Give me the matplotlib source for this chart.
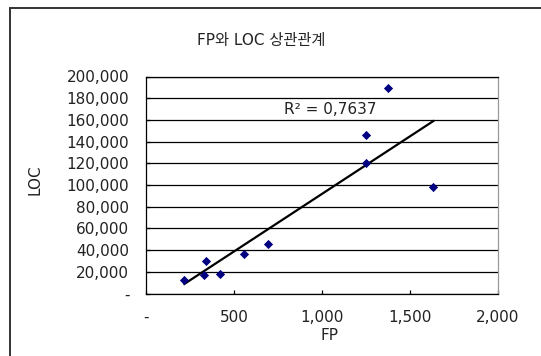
import numpy as np
import matplotlib
matplotlib.use("Agg")
import matplotlib.pyplot as plt
from matplotlib.patches import Rectangle

plt.rcParams['font.family'] = ['DejaVu Sans', 'Noto Sans CJK KR']

# data
fp = [218, 331, 339, 420, 558, 695, 1248, 1248, 1373, 1632]
loc = [12500, 17000, 30000, 17700, 36400, 45300, 120500, 146000, 189000, 98000]

x_ticks = [0, 500, 1000, 1500, 2000]
x_labels = ['-', '500', '1,000', '1,500', '2,000']
y_ticks = [0, 20000, 40000, 60000, 80000, 100000, 120000, 140000, 160000, 180000, 200000]
y_labels = ['-', '20,000', '40,000', '60,000', '80,000', '100,000',
            '120,000', '140,000', '160,000', '180,000', '200,000']

title = 'FP와 LOC 상관관계'
r2_text = 'R² = 0,7637'

W, H = 541, 356
fs = 11
fig = plt.figure(figsize=(W / 100, H / 100), dpi=100)
fig.patch.set_facecolor('white')

# plot area (pixels): left 146, right 498, top 76.5, bottom 293.5
ax = fig.add_axes([146 / W, 1 - 293.5 / H, (498 - 146) / W, (293.5 - 76.5) / H])

# linear trend line
slope, intercept = np.polyfit(fp, loc, 1)
xs = np.array([min(fp), max(fp)])
ax.plot(xs, slope * xs + intercept, color='black', lw=1.6, zorder=3)

ax.scatter(fp, loc, marker='D', s=22, color='#000080', zorder=4, linewidths=0)

ax.set_xlim(0, 2000)
ax.set_ylim(0, 200000)
ax.set_xticks(x_ticks)
ax.set_xticklabels(x_labels)
ax.set_yticks(y_ticks)
ax.set_yticklabels(y_labels)

ax.yaxis.grid(True, color='black', lw=0.9)
ax.set_axisbelow(True)
ax.tick_params(axis='both', direction='in', length=3, width=0.9, colors='black',
               labelsize=fs, labelcolor='#222222')
ax.tick_params(axis='x', pad=12)
ax.tick_params(axis='y', pad=12)

for s in ['left', 'bottom', 'top']:
    ax.spines[s].set_color('black')
    ax.spines[s].set_linewidth(0.9)
ax.spines['right'].set_color('#9a9a9a')
ax.spines['right'].set_linewidth(0.9)

fig.text(330 / W, 1 - 110 / H, r2_text, fontsize=fs, color='#222222',
         ha='center', va='center')
fig.text(261.5 / W, 1 - 40 / H, title, fontsize=fs, color='#222222',
         ha='center', va='center')
fig.text(329 / W, 1 - 335 / H, 'FP', fontsize=fs, color='#222222',
         ha='center', va='center')
fig.text(35 / W, 1 - 180 / H, 'LOC', fontsize=fs, color='#222222',
         rotation=90, ha='center', va='center')

# chart area border (extends past the right and bottom edges)
fig.patches.append(Rectangle((9.5 / W, -0.1), 1.2, 1 - 8 / H + 0.1,
                             transform=fig.transFigure, fill=False,
                             edgecolor='#333333', lw=1.4, clip_on=False))

fig.savefig('out.png', dpi=100)
